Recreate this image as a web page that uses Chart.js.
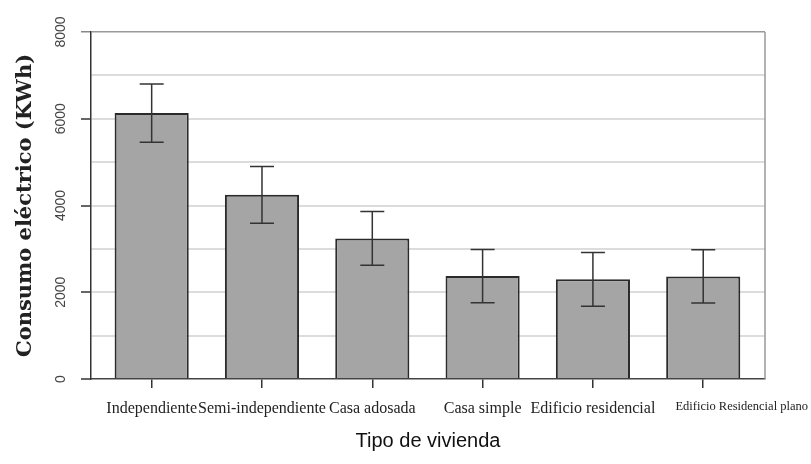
<!DOCTYPE html>
<html>
<head>
<meta charset="utf-8">
<script src="https://cdn.jsdelivr.net/npm/chart.js@4.4.1/dist/chart.umd.min.js"></script>
<style>
  body { margin: 0; background: #fff; }
</style>
</head>
<body>
<canvas id="viviendaChart" width="811" height="464"></canvas>
<script>
var categories = ['Independiente', 'Semi-independiente', 'Casa adosada', 'Casa simple', 'Edificio residencial', 'Edificio Residencial plano'];
var consumo = [6130, 4245, 3240, 2372, 2297, 2365];
var errores = [670, 655, 620, 614, 617, 612];
var yTicks = [0, 2000, 4000, 6000, 8000];

// barras de error (media +/- error)
var errorBars = {
    id: 'errorBars',
    afterDatasetsDraw: function (chart) {
        var ctx = chart.ctx;
        var yScale = chart.scales.y;
        var meta = chart.getDatasetMeta(0);
        ctx.save();
        ctx.strokeStyle = '#333';
        ctx.lineWidth = 1.5;
        meta.data.forEach(function (bar, i) {
            var top = yScale.getPixelForValue(consumo[i] + errores[i]);
            var bottom = yScale.getPixelForValue(consumo[i] - errores[i]);
            ctx.beginPath();
            ctx.moveTo(bar.x, top);
            ctx.lineTo(bar.x, bottom);
            ctx.moveTo(bar.x - 12, top);
            ctx.lineTo(bar.x + 12, top);
            ctx.moveTo(bar.x - 12, bottom);
            ctx.lineTo(bar.x + 12, bottom);
            ctx.stroke();
        });
        ctx.restore();
    }
};

// borde derecho del panel
var rightBorder = {
    id: 'rightBorder',
    beforeDatasetsDraw: function (chart) {
        var a = chart.chartArea;
        var ctx = chart.ctx;
        ctx.save();
        ctx.strokeStyle = '#999';
        ctx.lineWidth = 1.5;
        ctx.beginPath();
        ctx.moveTo(a.right, a.top);
        ctx.lineTo(a.right, a.bottom);
        ctx.stroke();
        ctx.restore();
    }
};

// la ultima etiqueta se corre hacia la derecha hasta el borde del lienzo
var lastLabelShift = {
    id: 'lastLabelShift',
    beforeDraw: function (chart) {
        var items = chart.scales.x.getLabelItems();
        var last = items[items.length - 1];
        if (!last) return;
        var ctx = chart.ctx;
        ctx.save();
        ctx.font = last.font.string;
        var w = ctx.measureText(last.label).width;
        ctx.restore();
        var t = last.options.translation;
        var target = chart.width - 3 - w / 2;
        if (target > t[0]) t[0] = target;
    }
};

var ctx = document.getElementById('viviendaChart').getContext('2d');
window.myChart = new Chart(ctx, {
    type: 'bar',
    data: {
        datasets: [{
            label: 'Consumo eléctrico',
            data: consumo.map(function (v, i) { return { x: i + 1, y: v }; }),
            backgroundColor: '#a6a5a6',
            borderColor: '#2a2a2a',
            borderWidth: 2,
            barPercentage: 0.672,
            categoryPercentage: 1
        }]
    },
    options: {
        responsive: false,
        devicePixelRatio: 1,
        animation: false,
        layout: { padding: { top: 32, right: 46, left: 0, bottom: 0 } },
        plugins: {
            legend: { display: false },
            tooltip: { enabled: false }
        },
        scales: {
            x: {
                type: 'linear',
                min: 0.45,
                max: 6.56,
                offset: false,
                afterBuildTicks: function (axis) {
                    axis.ticks = categories.map(function (c, i) { return { value: i + 1 }; });
                },
                afterFit: function (scale) { scale.height = 85; },
                grid: { drawOnChartArea: false, offset: false, color: '#333', lineWidth: 1.5, tickLength: 9 },
                border: { color: '#444', width: 1.5 },
                ticks: {
                    autoSkip: false,
                    maxRotation: 0,
                    minRotation: 0,
                    padding: 11,
                    color: '#222',
                    font: function (c) {
                        return { family: 'Liberation Serif', size: c.index === 5 ? 12.5 : 16 };
                    },
                    callback: function (value) { return categories[value - 1]; }
                },
                title: {
                    display: true,
                    text: 'Tipo de vivienda',
                    color: '#111',
                    font: { family: 'Liberation Sans', size: 20 },
                    padding: { top: 0, bottom: 11 }
                }
            },
            y: {
                min: 0,
                max: 8000,
                afterFit: function (scale) { scale.width = 91; },
                ticks: {
                    stepSize: 1000,
                    minRotation: 90,
                    maxRotation: 90,
                    crossAlign: 'center',
                    padding: 4,
                    color: '#444',
                    font: { family: 'Liberation Sans', size: 14 },
                    callback: function (value) { return yTicks.indexOf(value) >= 0 ? value : ''; }
                },
                grid: {
                    tickLength: 10,
                    color: function (c) {
                        if (c.tick.value === 8000) return '#999';
                        if (c.tick.value === 0) return 'rgba(0,0,0,0)';
                        return '#dcdcdc';
                    },
                    lineWidth: function (c) { return c.tick.value === 8000 ? 1.5 : 2; },
                    tickColor: function (c) {
                        if (c.tick.value === 8000) return '#888';
                        return yTicks.indexOf(c.tick.value) >= 0 ? '#333' : 'rgba(0,0,0,0)';
                    },
                    tickWidth: 1.5
                },
                border: { color: '#333', width: 1.5 },
                title: {
                    display: true,
                    text: 'Consumo eléctrico (KWh)',
                    color: '#222',
                    font: { family: 'DejaVu Serif', size: 21, weight: 'bold' },
                    padding: { top: 13, bottom: 0 }
                }
            }
        }
    },
    plugins: [errorBars, rightBorder, lastLabelShift]
});
</script>
</body>
</html>
